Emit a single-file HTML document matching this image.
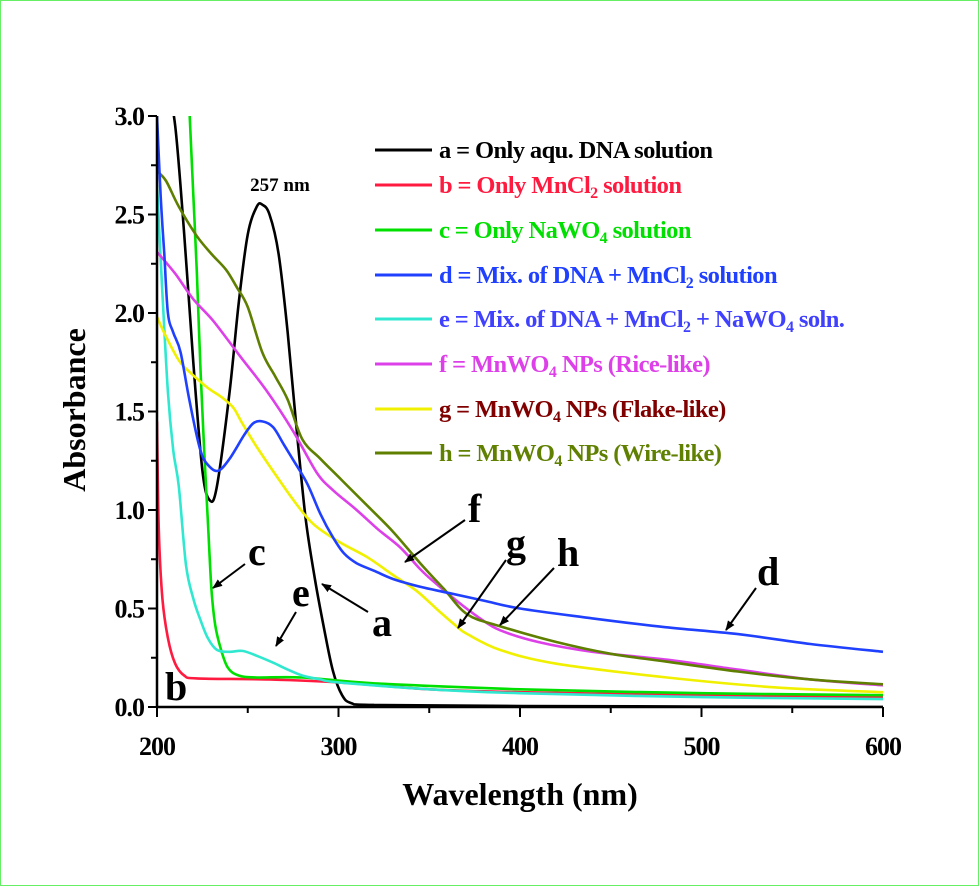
<!DOCTYPE html>
<html><head><meta charset="utf-8"><style>
html,body{margin:0;padding:0;background:#fff}
svg{display:block}
text{font-family:"Liberation Serif",serif;font-weight:bold}
</style></head><body>
<svg id="chart" width="979" height="886" viewBox="0 0 979 886" xmlns="http://www.w3.org/2000/svg">
<rect x="0.5" y="0.5" width="978" height="885" fill="#fff" stroke="#66ee66" stroke-width="1"/>
<defs>
<clipPath id="pc"><rect x="157" y="116" width="728" height="592"/></clipPath>
<marker id="ah" markerWidth="10" markerHeight="8" refX="9" refY="4" orient="auto" markerUnits="userSpaceOnUse"><path d="M0,0 L10,4 L0,8 z" fill="#000"/></marker>
</defs>
<g id="series" clip-path="url(#pc)"></g>
<g id="axes"></g>
<text x="85" y="410" font-size="32" text-anchor="middle" transform="rotate(-90 85 410)">Absorbance</text>
<text x="520" y="805" font-size="32" text-anchor="middle">Wavelength (nm)</text>
<text x="280" y="191" font-size="19" text-anchor="middle">257 nm</text>
<g id="legend"></g>
<g font-size="40">
<text x="248" y="565">c</text>
<line x1="245" y1="564" x2="213" y2="588" stroke="#000" stroke-width="2" marker-end="url(#ah)"/>
<text x="292" y="606">e</text>
<line x1="296" y1="612" x2="276" y2="646" stroke="#000" stroke-width="2" marker-end="url(#ah)"/>
<text x="372" y="636">a</text>
<line x1="368" y1="612" x2="322" y2="584" stroke="#000" stroke-width="2" marker-end="url(#ah)"/>
<text x="165" y="700">b</text>
<text x="468" y="522">f</text>
<line x1="465" y1="520" x2="405" y2="562" stroke="#000" stroke-width="2" marker-end="url(#ah)"/>
<text x="506" y="557">g</text>
<line x1="506" y1="560" x2="458" y2="628" stroke="#000" stroke-width="2" marker-end="url(#ah)"/>
<text x="557" y="566">h</text>
<line x1="554" y1="568" x2="500" y2="625" stroke="#000" stroke-width="2" marker-end="url(#ah)"/>
<text x="757" y="585">d</text>
<line x1="756" y1="588" x2="726" y2="630" stroke="#000" stroke-width="2" marker-end="url(#ah)"/>
</g>
</svg>
<script>
const xTicks=[200,300,400,500,600];
const yTicks=[0.0,0.5,1.0,1.5,2.0,2.5,3.0];
const yTickLabels=["0.0","0.5","1.0","1.5","2.0","2.5","3.0"];
const seriesA=[[205,3.2],[210,2.95],[215,2.4],[220,1.75],[225,1.2],[229,1.05],[233,1.12],[240,1.6],[245,2.05],[250,2.4],[255,2.54],[258,2.55],[262,2.5],[267,2.3],[272,1.9],[277,1.4],[282,0.95],[287,0.65],[292,0.4],[297,0.18],[302,0.06],[307,0.02],[320,0.01],[400,0.005],[600,0.0]];
const seriesB=[[200,1.45],[201,0.9],[203,0.55],[206,0.35],[210,0.22],[215,0.16],[222,0.145],[260,0.14],[300,0.125],[350,0.09],[400,0.075],[500,0.06],[600,0.05]];
const seriesC=[[218,3.0],[220,2.6],[222,2.2],[224,1.7],[226,1.3],[228,0.95],[230,0.6],[232,0.42],[235,0.3],[239,0.2],[245,0.16],[255,0.15],[280,0.15],[320,0.12],[400,0.09],[500,0.07],[600,0.06]];
const seriesD=[[200,3.0],[202,2.6],[204,2.3],[206,2.0],[209,1.9],[213,1.8],[218,1.55],[224,1.3],[229,1.22],[234,1.2],[240,1.26],[248,1.38],[253,1.44],[258,1.45],[264,1.42],[270,1.33],[276,1.24],[283,1.13],[290,0.98],[297,0.86],[303,0.78],[310,0.73],[320,0.69],[330,0.65],[345,0.61],[360,0.58],[380,0.54],[400,0.5],[440,0.45],[480,0.405],[520,0.37],[560,0.32],[600,0.28]];
const seriesE=[[200,2.65],[203,2.1],[206,1.6],[209,1.3],[212,1.12],[216,0.72],[220,0.55],[224,0.44],[228,0.35],[233,0.29],[240,0.28],[247,0.285],[255,0.26],[264,0.225],[272,0.19],[280,0.16],[290,0.14],[300,0.125],[350,0.09],[400,0.07],[500,0.05],[600,0.04]];
const seriesF=[[200,2.31],[210,2.2],[220,2.07],[231,1.96],[245,1.79],[260,1.61],[275,1.4],[288,1.19],[297,1.1],[310,1.0],[322,0.9],[334,0.81],[345,0.7],[352,0.64],[365,0.54],[378,0.45],[389,0.39],[410,0.33],[440,0.28],[481,0.24],[520,0.19],[560,0.14],[600,0.11]];
const seriesG=[[200,1.98],[205,1.88],[212,1.76],[218,1.7],[228,1.62],[236,1.57],[242,1.52],[247,1.44],[255,1.32],[266,1.17],[276,1.04],[286,0.93],[300,0.84],[316,0.76],[330,0.67],[343,0.59],[355,0.49],[365,0.41],[371,0.37],[389,0.29],[420,0.22],[481,0.15],[540,0.1],[600,0.075]];
const seriesH=[[200,2.72],[205,2.67],[212,2.54],[222,2.39],[230,2.3],[238,2.22],[244,2.13],[250,2.03],[258,1.8],[265,1.68],[272,1.56],[280,1.36],[290,1.26],[302,1.15],[315,1.03],[330,0.89],[345,0.73],[358,0.6],[371,0.47],[389,0.41],[420,0.33],[450,0.27],[481,0.23],[520,0.18],[560,0.14],[600,0.115]];

const NS="http://www.w3.org/2000/svg";
const X0=157,X1=883,Y0=707,Y1=116;
function xs(v){return X0+(v-200)/400*(X1-X0);}
function ys(v){return Y0-v/3*(Y0-Y1);}
function mk(t,a,p){const e=document.createElementNS(NS,t);for(const k in a)e.setAttribute(k,a[k]);p.appendChild(e);return e;}
function smooth(pts){
  let d='M'+pts[0][0].toFixed(1)+','+pts[0][1].toFixed(1);
  for(let i=0;i<pts.length-1;i++){
    const p0=pts[Math.max(0,i-1)],p1=pts[i],p2=pts[i+1],p3=pts[Math.min(pts.length-1,i+2)];
    const c1=[p1[0]+(p2[0]-p0[0])/6,p1[1]+(p2[1]-p0[1])/6];
    const c2=[p2[0]-(p3[0]-p1[0])/6,p2[1]-(p3[1]-p1[1])/6];
    d+=' C'+c1[0].toFixed(1)+','+c1[1].toFixed(1)+' '+c2[0].toFixed(1)+','+c2[1].toFixed(1)+' '+p2[0].toFixed(1)+','+p2[1].toFixed(1);
  }
  return d;
}

const ax=document.getElementById('axes');
let l=mk('line',{x1:X0,y1:Y1,x2:X0,y2:Y0+1,stroke:'#000','stroke-width':2.5},ax);


l=mk('line',{x1:X0-1,y1:Y0,x2:X1,y2:Y0,stroke:'#000','stroke-width':2.5},ax);


for(let v=0;v<=3.001;v+=0.25){const maj=Math.abs(v*2-Math.round(v*2))<1e-6;const t=mk('line',{x1:X0,x2:X0-(maj?9:6),y1:ys(v),y2:ys(v),stroke:'#000','stroke-width':2},ax);

}
for(let v=200;v<=600;v+=50){const maj=v%100===0;const t=mk('line',{x1:xs(v),x2:xs(v),y1:Y0,y2:Y0+(maj?10:6),stroke:'#000','stroke-width':2},ax);

}
yTicks.forEach((v,i)=>{const t=mk('text',{x:144,y:ys(v)+9,'font-size':26,'text-anchor':'end','letter-spacing':'-1'},ax);t.textContent=yTickLabels[i];

});
xTicks.forEach(v=>{const t=mk('text',{x:xs(v),y:755,'font-size':26,'text-anchor':'middle','letter-spacing':'-1'},ax);t.textContent=String(v);

});

const sg=document.getElementById('series');
const bg=mk('rect',{x:X0,y:Y1,width:X1-X0,height:Y0-Y1,fill:'#fff'},sg);


const defs=[[seriesA,'#000000','series-a'],[seriesB,'#ff1a40','series-b'],[seriesC,'#00e000','series-c'],[seriesE,'#30e8d0','series-e'],[seriesG,'#f0f000','series-g'],[seriesF,'#dd40e8','series-f'],[seriesH,'#5f7f00','series-h'],[seriesD,'#2040ff','series-d']];
defs.forEach(([d,c,n])=>{const p=mk('path',{d:smooth(d.map(q=>[xs(q[0]),ys(q[1])])),fill:'none',stroke:c,'stroke-width':2.6,'stroke-linejoin':'round'},sg);

});

const lg=document.getElementById('legend');
const legendLines=['#000','#ff1a40','#00e000','#2040ff','#30e8d0','#dd40e8','#f0f000','#5f7f00'];
const legendTextColors=['#000','#ff1a40','#00e000','#2040ff','#4040ff','#dd40e8','#800000','#5f8000'];
const legendHtml=['a = Only aqu. DNA solution','b = Only MnCl<tspan baseline-shift="-30%" font-size="16">2</tspan> solution','c = Only NaWO<tspan baseline-shift="-30%" font-size="16">4</tspan> solution','d = Mix. of DNA + MnCl<tspan baseline-shift="-30%" font-size="16">2</tspan> solution','e = Mix. of DNA + MnCl<tspan baseline-shift="-30%" font-size="16">2</tspan> + NaWO<tspan baseline-shift="-30%" font-size="16">4</tspan> soln.','f = MnWO<tspan baseline-shift="-30%" font-size="16">4</tspan> NPs (Rice-like)','g = MnWO<tspan baseline-shift="-30%" font-size="16">4</tspan> NPs (Flake-like)','h = MnWO<tspan baseline-shift="-30%" font-size="16">4</tspan> NPs (Wire-like)'];
const legendY=[150,185,230,275,319,364,409,453];
legendHtml.forEach((h,i)=>{const ln=mk('line',{x1:375,x2:432,y1:legendY[i],y2:legendY[i],stroke:legendLines[i],'stroke-width':3},lg);


const t=mk('text',{x:439,y:legendY[i]+8,'font-size':24.5,fill:legendTextColors[i],'letter-spacing':'-0.6'},lg);t.innerHTML=h;

});
</script>
</body></html>
